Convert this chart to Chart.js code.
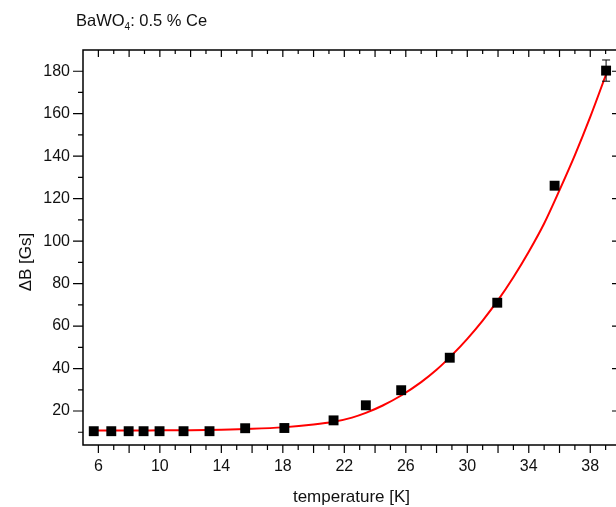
<!DOCTYPE html>
<html>
<head>
<meta charset="utf-8">
<script src="https://cdn.jsdelivr.net/npm/chart.js@4.4.0/dist/chart.umd.min.js"></script>
<style>
  html, body { margin: 0; padding: 0; background: #fff; overflow: hidden; }
  #wrap { position: relative; width: 616px; height: 507px; overflow: hidden; }
  #chart { position: absolute; left: 0; top: 0; }
  #title { position: absolute; left: 76px; top: 11px; line-height: 1;
           font: 16.5px "Liberation Sans", Arial, sans-serif; color: #111; }
  #title sub { font-size: 10px; line-height: 0; vertical-align: -4px; }
</style>
</head>
<body>
<div id="wrap">
  <canvas id="chart" width="640" height="507"></canvas>
  <div id="title">BaWO<sub>4</sub>: 0.5 % Ce</div>
</div>
<script>
// measured line width vs temperature
const temperature = [5.7, 6.84, 7.97, 8.94, 9.98, 11.54, 13.23, 15.55, 18.1, 21.3, 23.4, 25.7, 28.86, 31.95, 35.68, 39.03]
const deltaB = [10.5, 10.5, 10.5, 10.5, 10.5, 10.5, 10.5, 11.9, 12.0, 15.6, 22.7, 29.8, 45.1, 71.0, 126.1, 180.3]
const deltaBErr = [0, 0, 0, 0, 0, 0, 0, 0, 0, 0, 0, 0, 0, 0, 0, 5]

// fitted curve
const fitT = [5.6, 8, 10, 12, 14, 16, 18, 20, 21.3, 22.5, 23.4, 24.5, 25.7, 27, 28, 29, 30, 31, 32, 33, 34, 35, 36, 37, 38, 39, 39.1]
const fitB = [10.8, 10.8, 10.9, 11.0, 11.2, 11.6, 12.3, 13.6, 14.9, 16.9, 19.1, 22.6, 27.3, 33.6, 39.4, 46.3, 54.0, 62.6, 72.2, 83.0, 95.0, 108.3, 124.0, 140.5, 158.5, 178.0, 180.0]

const xTicks = [6, 10, 14, 18, 22, 26, 30, 34, 38]
const yTicks = [20, 40, 60, 80, 100, 120, 140, 160, 180]

const FONT = '"Liberation Sans", Arial, sans-serif'
Chart.defaults.font.family = FONT
Chart.defaults.font.size = 16
Chart.defaults.color = '#111'

// frame, tick marks, axis titles and error bars
const framePlugin = {
    id: 'frame',
    afterDatasetsDraw(chart) {
        const ctx = chart.ctx
        const a = chart.chartArea
        const xs = chart.scales.x
        const ys = chart.scales.y
        ctx.save()
        ctx.strokeStyle = '#000'
        ctx.lineWidth = 1.5
        ctx.strokeRect(a.left, a.top, a.right - a.left, a.bottom - a.top)

        ctx.lineWidth = 1.2
        ctx.beginPath()
        for (let v = 6; v < 40; v++) {
            const px = xs.getPixelForValue(v)
            const even = v % 2 === 0
            ctx.moveTo(px, a.bottom)
            ctx.lineTo(px, a.bottom + (even ? 8 : 5))
            ctx.moveTo(px, a.top)
            ctx.lineTo(px, a.top + (even ? 7 : 4))
        }
        for (let v = 10; v < 190; v += 10) {
            const py = ys.getPixelForValue(v)
            const major = v % 20 === 0
            ctx.moveTo(a.left, py)
            ctx.lineTo(a.left - (major ? 10 : 5), py)
            ctx.moveTo(a.right, py)
            ctx.lineTo(a.right - (major ? 9 : 5), py)
        }
        ctx.stroke()

        // error bars
        ctx.lineWidth = 1
        ctx.beginPath()
        temperature.forEach((t, i) => {
            const e = deltaBErr[i]
            if (!e) return
            const px = xs.getPixelForValue(t)
            const y1 = ys.getPixelForValue(deltaB[i] + e)
            const y2 = ys.getPixelForValue(deltaB[i] - e)
            ctx.moveTo(px, y1); ctx.lineTo(px, y2)
            ctx.moveTo(px - 4, y1); ctx.lineTo(px + 4, y1)
            ctx.moveTo(px - 4, y2); ctx.lineTo(px + 4, y2)
        })
        ctx.stroke()

        ctx.fillStyle = '#111'
        ctx.font = '17px ' + FONT
        ctx.textAlign = 'center'
        ctx.textBaseline = 'middle'
        ctx.fillText('temperature [K]', (a.left + 616) / 2 + 2, 497)
        ctx.translate(26, 262)
        ctx.rotate(-Math.PI / 2)
        ctx.fillText('\u0394B [Gs]', 0, 0)
        ctx.restore()
    }
}

new Chart(document.getElementById('chart'), {
    type: 'scatter',
    data: {
        datasets: [
            {
                label: 'ΔB',
                data: temperature.map((t, i) => ({ x: t, y: deltaB[i] })),
                pointStyle: 'rect',
                pointRadius: 7,
                backgroundColor: '#000',
                borderWidth: 0
            },
            {
                label: 'fit',
                data: fitT.map((t, i) => ({ x: t, y: fitB[i] })),
                showLine: true,
                pointRadius: 0,
                borderColor: '#ff0000',
                borderWidth: 2,
                cubicInterpolationMode: 'monotone'
            }
        ]
    },
    options: {
        responsive: false,
        animation: false,
        layout: { padding: { top: 50, right: 19, left: 0, bottom: 0 } },
        plugins: { legend: { display: false }, tooltip: { enabled: false } },
        scales: {
            x: {
                type: 'linear', min: 5, max: 40,
                grid: { display: false, drawTicks: true, tickLength: 8 },
                border: { display: false },
                afterBuildTicks: s => { s.ticks = xTicks.map(v => ({ value: v })) },
                afterFit: s => { s.height = 62 },
                ticks: { padding: 4, maxRotation: 0 }
            },
            y: {
                type: 'linear', min: 4, max: 190,
                grid: { display: false, drawTicks: true, tickLength: 10 },
                border: { display: false },
                afterBuildTicks: s => { s.ticks = yTicks.map(v => ({ value: v })) },
                afterFit: s => { s.width = 83 },
                ticks: { padding: 3 }
            }
        }
    },
    plugins: [framePlugin]
})
</script>
</body>
</html>
